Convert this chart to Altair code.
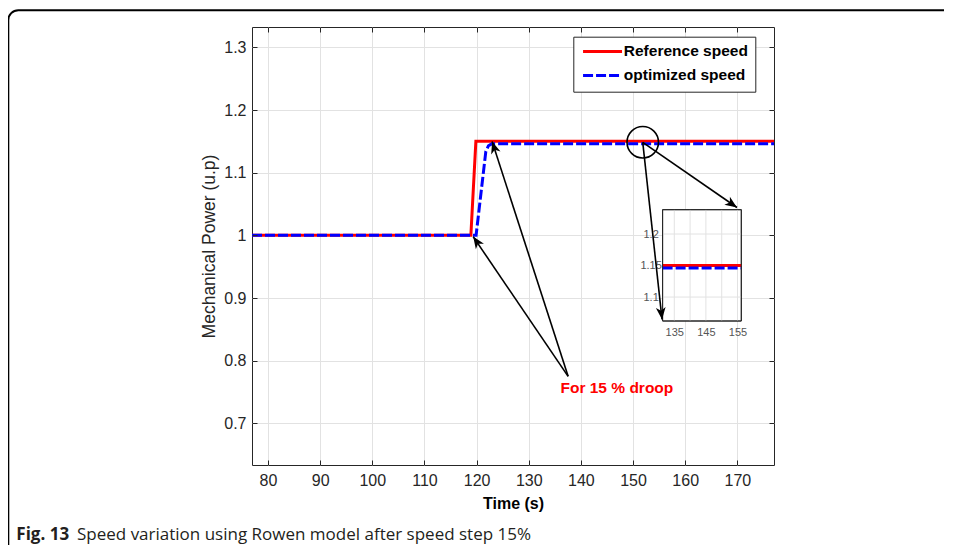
import math
import altair as alt
import pandas as pd

# ---------------- data ----------------
ref_t = [76.93, 118.9, 119.86, 177.03]
ref_p = [1.0, 1.0, 1.15, 1.15]
opt_t = [76.93, 119.9, 121.77, 122.27, 122.9, 177.03]
opt_p = [1.0, 1.0, 1.134, 1.143, 1.146, 1.146]
series = ["Reference speed", "optimized speed"]
series_colors = ["#ff0000", "#0000ff"]
series_dash = [[1, 0], [10, 3]]

x_domain = [76.93, 177.03]
y_domain = [0.6335, 1.3325]
x_ticks = [80, 90, 100, 110, 120, 130, 140, 150, 160, 170]
y_ticks = [0.7, 0.8, 0.9, 1.0, 1.1, 1.2, 1.3]

# zoom inset
inset_x_domain = [131.3, 156.2]
inset_y_domain = [1.062, 1.2386]
inset_x_grid = [135, 140, 145, 150, 155]
inset_x_labels = [135, 145, 155]
inset_y_grid = [1.1, 1.15, 1.2]

# annotations (data units of the main axes)
arrow_tail_x = [137.55, 137.55, 151.86, 151.86]
arrow_tail_y = [0.775, 0.775, 1.1485, 1.1485]
arrow_tip_x = [119.34, 122.98, 169.93, 155.56]
arrow_tip_y = [0.998, 1.1497, 1.0444, 0.8658]
circle_x = [151.86]
circle_y = [1.1485]
note_text = "For 15 % droop"
note_x = [146.9]
note_y = [0.757]
caption_bold = "Fig. 13"
caption_text = "Speed variation using Rowen model after speed step 15%"

# ---------------- layout ----------------
W, H = 522, 438
FONT = "Liberation Sans"
AX = "#262626"

# inset placement inside the plot area (pixels)
inset_x_range = [410.6, 489.3]
inset_y_range = [294.0, 182.7]

xs_main = alt.Scale(domain=x_domain, nice=False, zero=False)
ys_main = alt.Scale(domain=y_domain, nice=False, zero=False)

color_scale = alt.Scale(domain=series, range=series_colors)
dash_scale = alt.Scale(domain=series, range=series_dash)
legend = alt.Legend(
    title=None, orient="none", legendX=321.3, legendY=9.7,
    fillColor="white", strokeColor=AX, padding=7, rowPadding=7,
    labelFont=FONT, labelFontSize=15.5, labelFontWeight="bold", labelColor="black",
    symbolType="M-1,0H6.8", symbolSize=100, symbolStrokeWidth=3, labelOffset=28,
)

ref_df = pd.DataFrame({"t": ref_t, "p": ref_p, "s": series[0]})
opt_df = pd.DataFrame({"t": opt_t, "p": opt_p, "s": series[1]})

x_axis = alt.Axis(values=x_ticks, format="d", grid=True, gridColor="#e2e2e2", ticks=False,
                  domain=False, labelPadding=7, labelFontSize=16, labelColor=AX,
                  title="Time (s)", titleFontSize=16, titleFontWeight="bold", titleColor="black",
                  titlePadding=7)
y_axis = alt.Axis(values=y_ticks, format="~g", grid=True, gridColor="#e2e2e2", ticks=False,
                  domain=False, labelPadding=6, labelFontSize=16, labelColor=AX,
                  title="Mechanical Power (u.p)", titleFontSize=17.5, titleFontWeight="normal",
                  titleColor=AX, titlePadding=5)


def series_line(df, axes=True):
    return alt.Chart(df).mark_line(strokeWidth=3).encode(
        x=alt.X("t:Q", scale=xs_main, axis=x_axis if axes else None),
        y=alt.Y("p:Q", scale=ys_main, axis=y_axis if axes else None),
        color=alt.Color("s:N", scale=color_scale, legend=legend),
        strokeDash=alt.StrokeDash("s:N", scale=dash_scale, legend=legend),
    )


main = alt.layer(series_line(ref_df), series_line(opt_df))

# inward tick marks on the four sides of the box
anchor = pd.DataFrame({"t": [100.0], "p": [1.0]})
tick_kw = dict(labels=False, grid=False, domain=False, ticks=True, tickSize=5,
               tickColor=AX, tickWidth=1, title=None, zindex=1)
ticks_a = alt.Chart(anchor).mark_point(opacity=0).encode(
    x=alt.X("t:Q", scale=xs_main, axis=alt.Axis(orient="top", offset=-H, values=x_ticks, **tick_kw)),
    y=alt.Y("p:Q", scale=ys_main, axis=alt.Axis(orient="right", offset=-W, values=y_ticks, **tick_kw)),
)
ticks_b = alt.Chart(anchor).mark_point(opacity=0).encode(
    x=alt.X("t:Q", scale=xs_main, axis=alt.Axis(orient="bottom", offset=-H, values=x_ticks, **tick_kw)),
    y=alt.Y("p:Q", scale=ys_main, axis=alt.Axis(orient="left", offset=-W, values=y_ticks, **tick_kw)),
)

# ---------------- inset ----------------
xs_in = alt.Scale(domain=inset_x_domain, range=inset_x_range, nice=False, zero=False)
ys_in = alt.Scale(domain=inset_y_domain, range=inset_y_range, nice=False, zero=False)
box_df = pd.DataFrame({"x0": [inset_x_domain[0]], "x1": [inset_x_domain[1]],
                       "y0": [inset_y_domain[0]], "y1": [inset_y_domain[1]]})
inset_box = alt.Chart(box_df).mark_rect(fill="white", stroke=AX, strokeWidth=1).encode(
    x=alt.X("x0:Q", scale=xs_in,
            axis=alt.Axis(orient="bottom", offset=inset_y_range[0] - H, values=inset_x_labels,
                          format="d", grid=False, domain=False, ticks=False, labelPadding=5,
                          labelFont=FONT, labelFontSize=11, labelColor="#555555", title=None)),
    x2="x1:Q",
    y=alt.Y("y0:Q", scale=ys_in,
            axis=alt.Axis(orient="left", offset=-inset_x_range[0], values=inset_y_grid,
                          format="~g", grid=False, domain=False, ticks=False, labelPadding=12,
                          labelAlign="center", labelFont=FONT, labelFontSize=11,
                          labelColor="#555555", title=None)),
    y2="y1:Q",
)
vgrid_df = pd.DataFrame({"x": inset_x_grid, "y0": inset_y_domain[0], "y1": inset_y_domain[1]})
hgrid_df = pd.DataFrame({"y": inset_y_grid, "x0": inset_x_domain[0], "x1": inset_x_domain[1]})
inset_vgrid = alt.Chart(vgrid_df).mark_rule(color="#e2e2e2", strokeWidth=1).encode(
    x=alt.X("x:Q", scale=xs_in), y=alt.Y("y0:Q", scale=ys_in), y2="y1:Q")
inset_hgrid = alt.Chart(hgrid_df).mark_rule(color="#e2e2e2", strokeWidth=1).encode(
    y=alt.Y("y:Q", scale=ys_in), x=alt.X("x0:Q", scale=xs_in), x2="x1:Q")
inset_ref = pd.DataFrame({"t": inset_x_domain, "p": [ref_p[-1], ref_p[-1]]})
inset_opt = pd.DataFrame({"t": inset_x_domain, "p": [opt_p[-1], opt_p[-1]]})
inset_l1 = alt.Chart(inset_ref).mark_line(color=series_colors[0], strokeWidth=3).encode(
    x=alt.X("t:Q", scale=xs_in), y=alt.Y("p:Q", scale=ys_in))
inset_l2 = alt.Chart(inset_opt).mark_line(color=series_colors[1], strokeWidth=3,
                                         strokeDash=series_dash[1]).encode(
    x=alt.X("t:Q", scale=xs_in), y=alt.Y("p:Q", scale=ys_in))
inset_frame = alt.Chart(box_df).mark_rect(fill=None, stroke=AX, strokeWidth=1).encode(
    x=alt.X("x0:Q", scale=xs_in), x2="x1:Q", y=alt.Y("y0:Q", scale=ys_in), y2="y1:Q")
inset = alt.layer(inset_box, inset_vgrid, inset_hgrid, inset_l1, inset_l2, inset_frame)

# ---------------- annotations ----------------
XS = W / (x_domain[1] - x_domain[0])
YS = H / (y_domain[1] - y_domain[0])
angles = [math.degrees(math.atan2((tx - sx) * XS, (ty - sy) * YS)) % 360
          for sx, sy, tx, ty in zip(arrow_tail_x, arrow_tail_y, arrow_tip_x, arrow_tip_y)]
arrows_df = pd.DataFrame({"x0": arrow_tail_x, "y0": arrow_tail_y,
                          "x1": arrow_tip_x, "y1": arrow_tip_y, "ang": angles})
shafts = alt.Chart(arrows_df).mark_rule(color="black", strokeWidth=1.6).encode(
    x=alt.X("x0:Q", scale=xs_main, axis=None), y=alt.Y("y0:Q", scale=ys_main, axis=None),
    x2="x1:Q", y2="y1:Q")
heads = alt.Chart(arrows_df).mark_point(
    shape="M0,0L0.65,1.6L0,1.15L-0.65,1.6Z", filled=True, color="black", opacity=1, size=225
).encode(
    x=alt.X("x1:Q", scale=xs_main, axis=None), y=alt.Y("y1:Q", scale=ys_main, axis=None),
    angle=alt.Angle("ang:Q", scale=None))
circle = alt.Chart(pd.DataFrame({"x": circle_x, "y": circle_y})).mark_point(
    shape="circle", size=990, filled=False, color="black", strokeWidth=1.6, opacity=1
).encode(x=alt.X("x:Q", scale=xs_main, axis=None), y=alt.Y("y:Q", scale=ys_main, axis=None))
note = alt.Chart(pd.DataFrame({"x": note_x, "y": note_y, "t": [note_text]})).mark_text(
    font=FONT, fontSize=15.5, fontWeight="bold", color="#ff0000"
).encode(x=alt.X("x:Q", scale=xs_main, axis=None), y=alt.Y("y:Q", scale=ys_main, axis=None),
         text="t:N")

one = alt.Data(values=[{}])
frame = alt.Chart(one).mark_rect(fill=None, stroke="black", strokeWidth=2, cornerRadius=10).encode(
    x=alt.value(-243.7), x2=alt.value(1000), y=alt.value(-16.8), y2=alt.value(800))
cap1 = alt.Chart(one).mark_text(text=caption_bold, font="Open Sans", fontSize=17, fontWeight="bold",
                                align="left", baseline="middle", color="#231f20").encode(
    x=alt.value(-235.7), y=alt.value(508.0))
cap2 = alt.Chart(one).mark_text(text=caption_text, font="Open Sans", fontSize=17,
                                align="left", baseline="middle", color="#231f20").encode(
    x=alt.value(-175.0), y=alt.value(508.0))

annot = alt.layer(shafts, heads, circle, note, frame, cap1, cap2)

chart = alt.layer(main, ticks_a, ticks_b, inset, annot).resolve_scale(
    x="independent", y="independent"
).properties(
    width=W, height=H,
    autosize=alt.AutoSizeParams(type="none"),
    padding={"left": 244, "top": 19, "right": 170, "bottom": 80},
).configure_view(stroke=AX, strokeWidth=1).configure_axis(
    labelFont=FONT, titleFont=FONT
)

chart.save("out.html", embed_options={"renderer": "svg", "actions": False})
